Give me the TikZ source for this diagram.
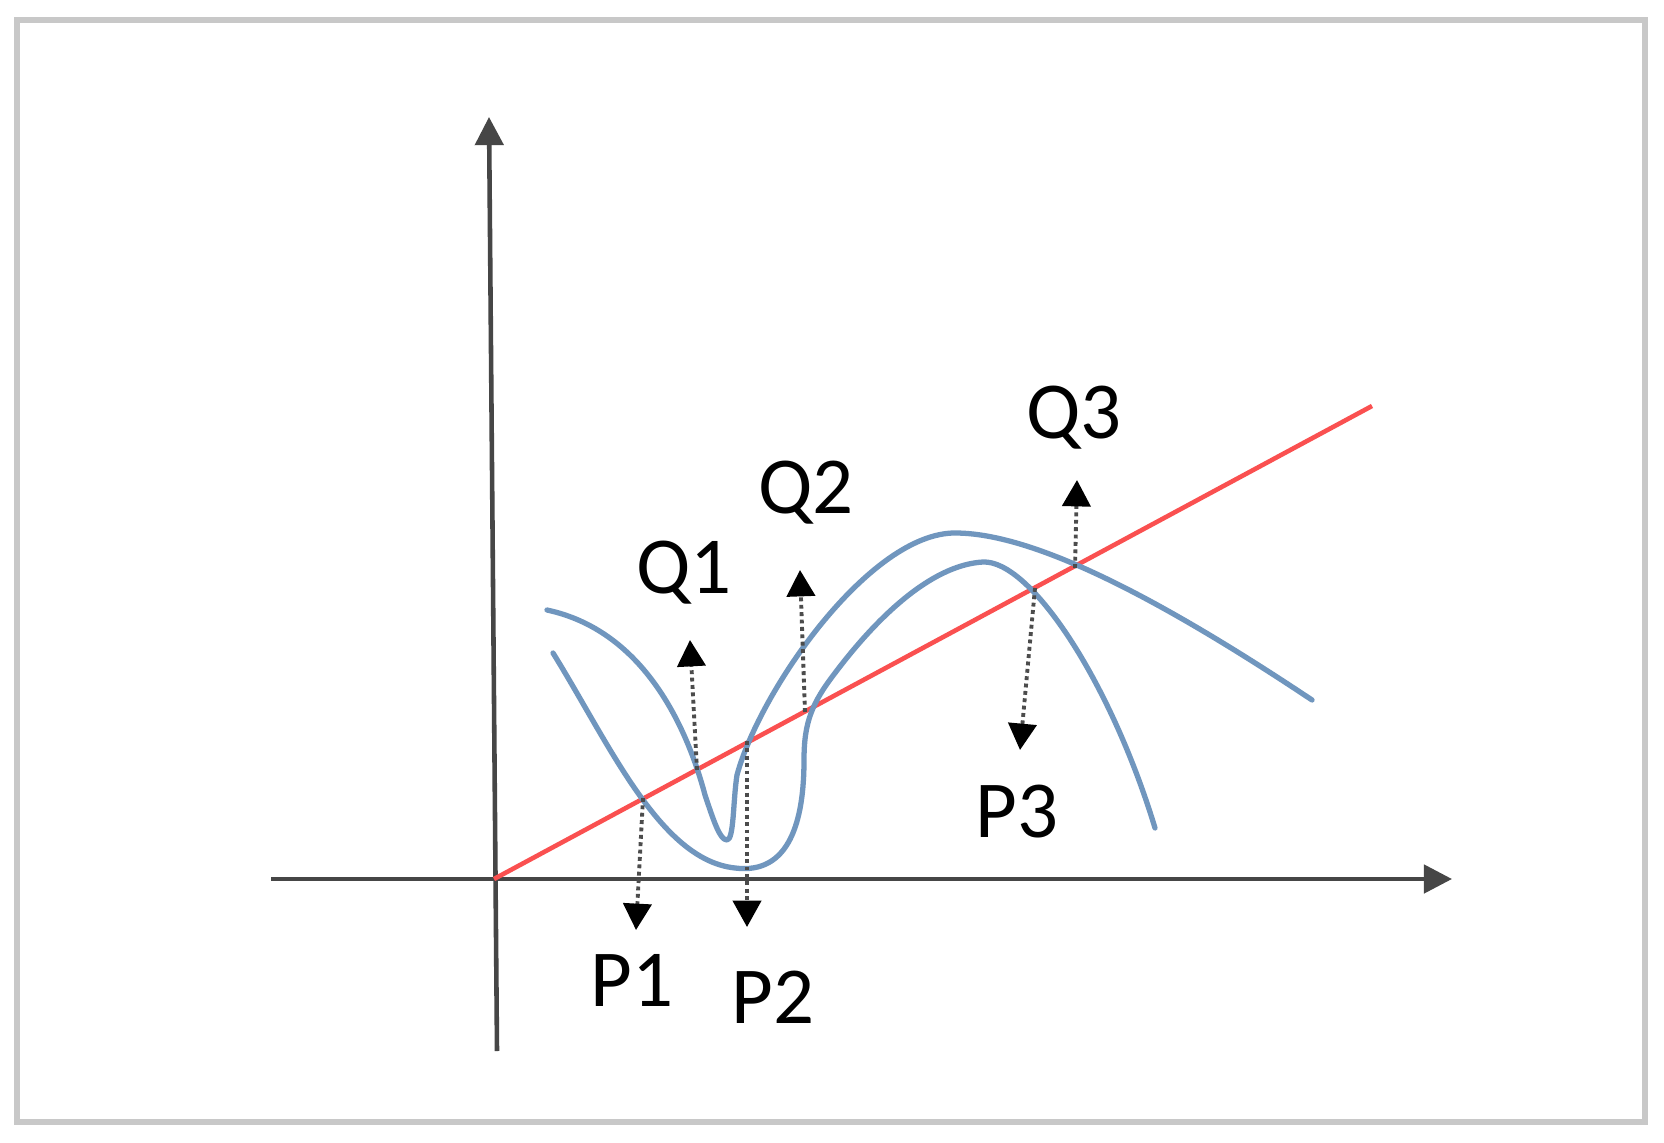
\documentclass[tikz,border=0pt]{standalone}
\usepackage{fontspec}
\setmainfont{Carlito}
\usetikzlibrary{arrows.meta}
\definecolor{curveblue}{RGB}{112,150,190}
\definecolor{linered}{RGB}{250,80,80}
\definecolor{axisgray}{RGB}{70,70,70}
\definecolor{framegray}{RGB}{200,200,200}
\tikzset{
  curve/.style={draw=curveblue, line width=1.5pt, line cap=round, line join=round},
  axisline/.style={draw=axisgray, line width=1.3pt, -{Triangle[width=8pt,length=8pt]}},
  proj/.style={draw=black!70, densely dotted, line width=1.1pt, -{Triangle[width=8pt,length=7.5pt,color=black]}},
  lbl/.style={font=\fontsize{23}{23}\selectfont, inner sep=0pt, text=black},
  frame/.style={draw=framegray, line width=1.7pt}
}
\begin{document}
\begin{tikzpicture}[x=0.01cm,y=-0.01cm]
\useasboundingbox (0,0) rectangle (1664,1143);
\fill[white] (0,0) rectangle (1664,1143);
\draw[frame] (17,20) rectangle (1645,1122);
% axes
\coordinate (xs) at (271,879);
\coordinate (xe) at (1452,879);
\coordinate (ys) at (497,1051);
\coordinate (ye) at (489,117);
\coordinate (O) at (494,879);
\coordinate (R) at (1372,406);
\draw[axisline] (xs) -- (xe);
\draw[axisline] (ys) -- (ye);
% red line
\draw[draw=linered, line width=1.3pt] (O) -- (R);
% curve A
\draw[curve] (547,610) .. controls (640,630) and (685,720) .. (705,795)
  .. controls (714,822) and (720,840) .. (727,840)
  .. controls (734,840) and (733,800) .. (737,775)
  .. controls (760,690) and (870,533) .. (955,533)
  .. controls (1030,533) and (1150,592) .. (1312,700);
% curve B
\draw[curve] (553,653) .. controls (610,745) and (660,860) .. (735,868)
  .. controls (790,875) and (804,820) .. (804,760)
  .. controls (804,722) and (812,703) .. (835,673)
  .. controls (875,620) and (930,565) .. (983,562)
  .. controls (1030,560) and (1110,680) .. (1155,828);
% intersection points
\coordinate (p1s) at (643,798);
\coordinate (p1e) at (636,930);
\coordinate (p2s) at (747,741);
\coordinate (p2e) at (747,927);
\coordinate (q1s) at (697,770);
\coordinate (q1e) at (690,640);
\coordinate (q2s) at (805,712);
\coordinate (q2e) at (800,570);
\coordinate (q3s) at (1075,568);
\coordinate (q3e) at (1077,480);
\coordinate (p3s) at (1035,588);
\coordinate (p3e) at (1020,750);
\draw[proj] (p1s) -- (p1e);
\draw[proj] (p2s) -- (p2e);
\draw[proj] (q1s) -- (q1e);
\draw[proj] (q2s) -- (q2e);
\draw[proj] (q3s) -- (q3e);
\draw[proj] (p3s) -- (p3e);
% labels
\node[lbl] (Q1) at (684,573) {Q1};
\node[lbl] (Q2) at (806,493) {Q2};
\node[lbl] (Q3) at (1074,418) {Q3};
\node[lbl] (P1) at (632,980) {P1};
\node[lbl] (P2) at (773,997) {P2};
\node[lbl] (P3) at (1017,812) {P3};
\end{tikzpicture}
\end{document}
